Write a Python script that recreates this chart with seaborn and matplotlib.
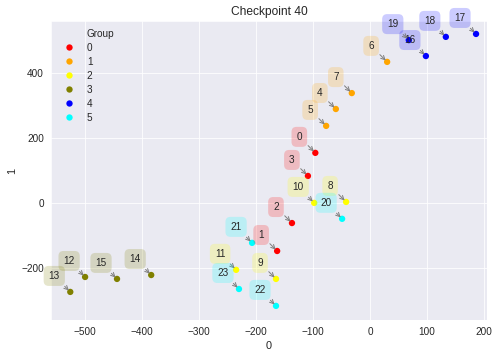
import numpy as np
import pandas as pd
import matplotlib
matplotlib.use('Agg')
import matplotlib.pyplot as plt
from matplotlib.lines import Line2D
import seaborn as sns

# Point ids, coordinates and group per point
ids = list(range(24))
xs = [-96, -163, -137, -109, -60, -77, 30, -32, -42, -165, -98, -235,
      -500, -526, -384, -444, 98, 186, 133, 68, -49, -207, -165, -230]
ys = [154, -148, -62, 83, 289, 237, 434, 338, 3, -234, 0, -206,
      -228, -274, -222, -234, 452, 520, 511, 501, -49, -123, -317, -265]
groups = [0, 0, 0, 0, 1, 1, 1, 1, 2, 2, 2, 2,
          3, 3, 3, 3, 4, 4, 4, 4, 5, 5, 5, 5]
group_colors = ['red', 'orange', 'yellow', 'olive', 'blue', 'cyan']

df = pd.DataFrame({0: xs, 1: ys, 'Group': groups})

sns.set_style('darkgrid')
plt.rcParams['font.family'] = ['Liberation Sans', 'DejaVu Sans']
fig, ax = plt.subplots(figsize=(7, 4.96), dpi=72)

sns.scatterplot(data=df, x=0, y=1, hue='Group', palette=group_colors,
                s=40, linewidth=0, ax=ax)

# Label every point with its id in a tinted box
for i, x, y, g in zip(ids, xs, ys, groups):
    ax.annotate(str(i), xy=(x, y), xytext=(-16, 16), textcoords='offset points',
                ha='center', va='center', fontsize=10,
                bbox=dict(boxstyle='round,pad=0.5', fc=group_colors[g], ec='none', alpha=0.2),
                arrowprops=dict(arrowstyle='->', color='gray', connectionstyle='arc3,rad=0'))

ax.set_xlim(-560, 205)
ax.set_ylim(-360, 560)
ax.set_title('Checkpoint 40', fontsize=12)
ax.set_xlabel('0', fontsize=11)
ax.set_ylabel('1', fontsize=11)

# old-style legend: the hue name is the first (handle-less) entry
handles, labels = ax.get_legend_handles_labels()
blank = Line2D([], [], linestyle='none', marker=None)
ax.legend([blank] + handles, ['Group'] + labels, loc='upper left',
          frameon=False, fontsize=10, borderaxespad=0.4, labelspacing=0.4)

fig.subplots_adjust(left=0.101, right=0.966, top=0.941, bottom=0.104)
fig.savefig('out.png', dpi=72)
